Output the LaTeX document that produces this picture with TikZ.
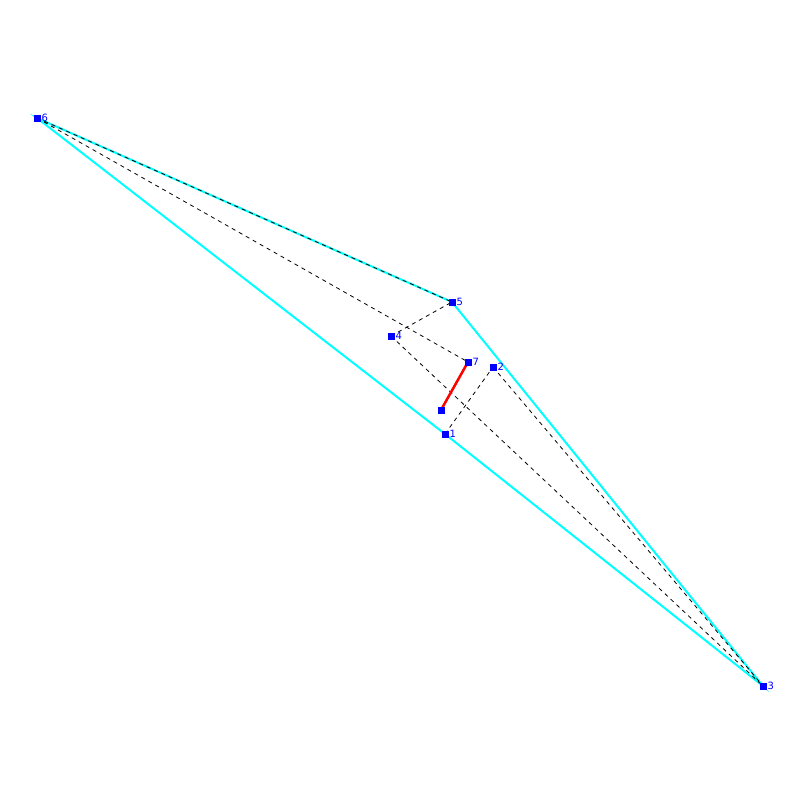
\documentclass[tikz,border=0pt]{standalone}
\usepackage{fontspec}
\setmainfont{DejaVu Sans}
\definecolor{aqua}{RGB}{0,255,255}
\definecolor{pblue}{RGB}{0,0,255}
\definecolor{pred}{RGB}{255,0,0}
\begin{document}
\begin{tikzpicture}[x=1pt,y=-1pt,
  pt/.style={fill=pblue,draw=none,minimum size=7pt,inner sep=0pt,outer sep=0pt,rectangle},
  lab/.style={text=pblue,font=\fontsize{10}{10}\selectfont,inner sep=0pt,anchor=west},
  hull/.style={aqua,line width=2pt},
  dsh/.style={black,line width=0.8pt,dash pattern=on 4pt off 4pt},
  seg/.style={pred,line width=2.5pt}]
\useasboundingbox (0,0) rectangle (800,800);
\fill[white] (0,0) rectangle (800,800);
\coordinate (p1) at (445,434);
\coordinate (p2) at (493,367);
\coordinate (p3) at (763,686);
\coordinate (p4) at (391,336);
\coordinate (p5) at (452,302);
\coordinate (p6) at (37,118);
\coordinate (p7) at (468,362);
\coordinate (p8) at (441,410);
\draw[hull] (p6) -- (p5) -- (p3) -- (p1) -- cycle;
\draw[dsh] (p6) -- (p5);
\draw[dsh] (p6) -- (p7);
\draw[dsh] (p4) -- (p5);
\draw[dsh] (p4) -- (p3);
\draw[dsh] (p1) -- (p2);
\draw[dsh] (p2) -- (p3);
\draw[seg] (p8) -- (p7);
\foreach \i in {1,...,7} {
  \node[pt] (n\i) at (p\i) {};
  \node[lab] (l\i) at ([xshift=1pt]n\i.east) {\i};
}
\node[pt] (n8) at (p8) {};
\end{tikzpicture}
\end{document}
